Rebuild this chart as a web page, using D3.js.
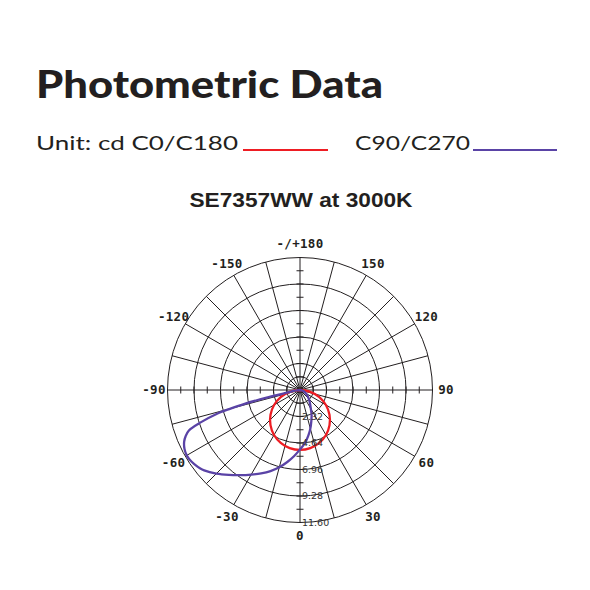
<!DOCTYPE html>
<html>
<head>
<meta charset="utf-8">
<script src="https://cdn.jsdelivr.net/npm/d3@7"></script>
<style>
  html, body { margin: 0; padding: 0; background: #fff; }
  svg { display: block; }
</style>
</head>
<body>
<svg id="chart" width="590" height="590"></svg>
<script>
// ---------------- data ----------------
const titleText = "Photometric Data";
const subtitleText = "SE7357WW at 3000K";
const unitText = "Unit: cd  C0/C180";
const seriesNames = ["C0/C180", "C90/C270"];

// ring values (cd)
const ringValues = [1.16, 2.32, 4.64, 6.96, 9.28, 11.60];
const ringLabels = ["2.32", "4.64", "6.96", "9.28", "11.60"];
const ringLabelValues = [2.32, 4.64, 6.96, 9.28, 11.60];
const maxValue = 11.60;
const tickStep = 1.16;

// angle labels (degrees, 0 = down, positive to the right)
const angleTickValues = [0, 30, 60, 90, 120, 150, 180, -150, -120, -90, -60, -30];
const angleTickLabels = ["0", "30", "60", "90", "120", "150", "-/+180", "-150", "-120", "-90", "-60", "-30"];
const spokeStep = 15;

// C0/C180 curve
const c0Angles = [-90, -80, -70, -60, -50, -40, -30, -20, -10, 0, 10, 20, 30, 40, 50, 60, 70, 80, 90];
const c0Values = [0, 0.91, 1.80, 2.62, 3.37, 4.02, 4.55, 4.93, 5.17, 5.25, 5.17, 4.93, 4.55, 4.02, 3.37, 2.62, 1.80, 0.91, 0];

// C90/C270 curve
const c90Angles = [-90, -85, -80, -78, -77, -76, -75, -74, -72, -70, -68, -66, -63, -60, -57.5, -55, -52, -50, -45, -40, -35, -30, -25, -20, -15, -10, -5, 0, 5, 10, 15, 20, 25, 30, 40, 50, 60, 75, 90];
const c90Values = [0, 0.3, 0.8, 1.5, 3.0, 5.0, 6.3, 7.6, 9.1, 10.35, 10.8, 11.1, 11.35, 11.45, 11.42, 11.3, 11.12, 10.95, 10.35, 9.7, 9.1, 8.55, 8.05, 7.55, 7.0, 6.4, 5.8, 5.2, 4.7, 4.1, 3.5, 2.9, 2.4, 1.9, 1.3, 0.9, 0.6, 0.3, 0];

// ---------------- drawing ----------------
const svg = d3.select("#chart");
svg.append("rect").attr("width", 590).attr("height", 590).attr("fill", "#fff");

const RED = "#ee1d23";
const PURPLE = "#5a43a6";
const INK = "#231f20";

function fitText(sel, w) {
  sel.attr("textLength", w).attr("lengthAdjust", "spacingAndGlyphs");
}

// Title
svg.append("text")
  .attr("x", 36).attr("y", 98)
  .attr("font-family", "Lato, 'Liberation Sans', sans-serif")
  .attr("font-weight", 900)
  .attr("font-size", 38)
  .attr("fill", INK)
  .text(titleText)
  .call(fitText, 347);

// Legend
const legY = 150;
svg.append("text")
  .attr("x", 36).attr("y", legY)
  .attr("font-family", "Lato, 'Liberation Sans', sans-serif")
  .attr("font-size", 20)
  .attr("fill", INK)
  .text(unitText)
  .call(fitText, 202);
svg.append("line")
  .attr("x1", 243).attr("x2", 328).attr("y1", legY).attr("y2", legY)
  .attr("stroke", RED).attr("stroke-width", 2);
svg.append("text")
  .attr("x", 355).attr("y", legY)
  .attr("font-family", "Lato, 'Liberation Sans', sans-serif")
  .attr("font-size", 20)
  .attr("fill", INK)
  .text(seriesNames[1])
  .call(fitText, 115);
svg.append("line")
  .attr("x1", 473).attr("x2", 557).attr("y1", legY).attr("y2", legY)
  .attr("stroke", PURPLE).attr("stroke-width", 2);

// Subtitle
svg.append("text")
  .attr("x", 301).attr("y", 207)
  .attr("text-anchor", "middle")
  .attr("font-family", "'Liberation Sans', Arial, sans-serif")
  .attr("font-weight", 700)
  .attr("font-size", 20)
  .attr("fill", INK)
  .text(subtitleText)
  .call(fitText, 223);

// Polar chart
const cx = 300, cy = 390, R = 132.5;
const r = d3.scaleLinear().domain([0, maxValue]).range([0, R]);
const toRad = deg => Math.PI - deg * Math.PI / 180; // d3 radial angle
const g = svg.append("g").attr("transform", `translate(${cx},${cy})`);

// rings
g.selectAll("circle.ring").data(ringValues).join("circle")
  .attr("class", "ring")
  .attr("r", d => r(d))
  .attr("fill", "none").attr("stroke", INK).attr("stroke-width", 1);

// spokes
const spokes = d3.range(0, 360, spokeStep);
g.selectAll("line.spoke").data(spokes).join("line")
  .attr("class", "spoke")
  .attr("x1", 0).attr("y1", 0)
  .attr("x2", d => r(maxValue) * Math.sin(toRad(d)))
  .attr("y2", d => -r(maxValue) * Math.cos(toRad(d)))
  .attr("stroke", INK).attr("stroke-width", 1);

// axis ticks on the four main axes
const tickVals = d3.range(1, Math.round(maxValue / tickStep)).map(i => i * tickStep);
[0, 90, 180, 270].forEach(a => {
  const th = toRad(a);
  const ux = Math.sin(th), uy = -Math.cos(th);
  const px = -uy, py = ux;
  g.selectAll(null).data(tickVals).join("line")
    .attr("x1", d => r(d) * ux - 3.5 * px)
    .attr("y1", d => r(d) * uy - 3.5 * py)
    .attr("x2", d => r(d) * ux + 3.5 * px)
    .attr("y2", d => r(d) * uy + 3.5 * py)
    .attr("stroke", INK).attr("stroke-width", 1);
});

// curves
const radial = d3.lineRadial()
  .angle(d => toRad(d[0]))
  .radius(d => r(d[1]))
  .curve(d3.curveCatmullRomClosed.alpha(0.5));

const c0Data = c0Angles.map((a, i) => [a, c0Values[i]]);
const c90Data = c90Angles.map((a, i) => [a, c90Values[i]]);

g.append("path").datum(c0Data)
  .attr("d", radial)
  .attr("fill", "none").attr("stroke", RED).attr("stroke-width", 2.3);
g.append("path").datum(c90Data)
  .attr("d", radial)
  .attr("fill", "none").attr("stroke", PURPLE).attr("stroke-width", 2.3);

// ring labels (along downward axis)
g.selectAll("text.rl").data(ringLabelValues).join("text")
  .attr("class", "rl")
  .attr("x", 2)
  .attr("y", d => r(d))
  .attr("dy", "0.35em")
  .attr("font-family", "'DejaVu Sans', sans-serif")
  .attr("font-size", 9.5)
  .attr("fill", "#333")
  .text((d, i) => ringLabels[i]);

// angle labels
const labR = 146;
g.selectAll("text.al").data(angleTickValues).join("text")
  .attr("class", "al")
  .attr("x", d => labR * Math.sin(toRad(d)))
  .attr("y", d => -labR * Math.cos(toRad(d)))
  .attr("dy", "0.35em")
  .attr("text-anchor", "middle")
  .attr("font-family", "'DejaVu Sans Mono', monospace")
  .attr("font-size", 12.5)
  .attr("font-weight", 700)
  .attr("letter-spacing", 0.3)
  .attr("fill", INK)
  .text((d, i) => angleTickLabels[i]);
</script>
</body>
</html>
